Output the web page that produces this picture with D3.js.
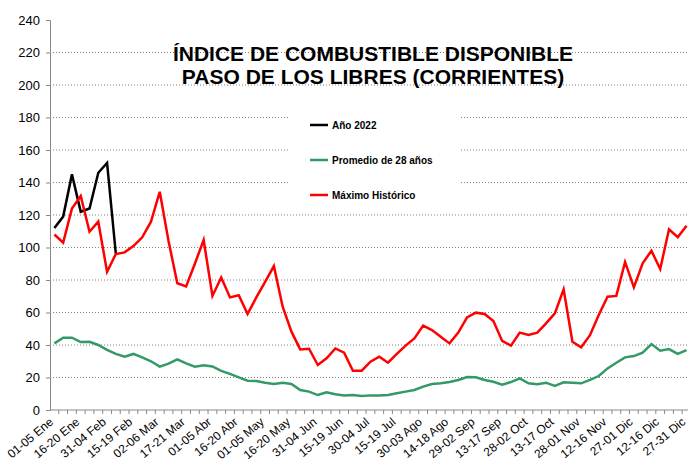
<!DOCTYPE html>
<html>
<head>
<meta charset="utf-8">
<script src="https://cdn.jsdelivr.net/npm/d3@7"></script>
<style>
  body { margin: 0; background: #fff; }
  svg { display: block; font-family: Arial, "Liberation Sans", sans-serif; }
  .titulo { font-weight: bold; font-size: 21px; fill: #000; }
  .leyenda text { font-weight: bold; font-size: 10px; fill: #000; }
</style>
</head>
<body>
<div id="graf"></div>
<script>
// periodos de 5 días (73 en el año)
var periodos = ['01-05 Ene','06-10 Ene','11-15 Ene','16-20 Ene','21-25 Ene','26-30 Ene',
  '31-04 Feb','05-09 Feb','10-14 Feb','15-19 Feb','20-24 Feb','25-01 Mar',
  '02-06 Mar','07-11 Mar','12-16 Mar','17-21 Mar','22-26 Mar','27-31 Mar',
  '01-05 Abr','06-10 Abr','11-15 Abr','16-20 Abr','21-25 Abr','26-30 Abr',
  '01-05 May','06-10 May','11-15 May','16-20 May','21-25 May','26-30 May',
  '31-04 Jun','05-09 Jun','10-14 Jun','15-19 Jun','20-24 Jun','25-29 Jun',
  '30-04 Jul','05-09 Jul','10-14 Jul','15-19 Jul','20-24 Jul','25-29 Jul',
  '30-03 Ago','04-08 Ago','09-13 Ago','14-18 Ago','19-23 Ago','24-28 Ago',
  '29-02 Sep','03-07 Sep','08-12 Sep','13-17 Sep','18-22 Sep','23-27 Sep',
  '28-02 Oct','03-07 Oct','08-12 Oct','13-17 Oct','18-22 Oct','23-27 Oct',
  '28-01 Nov','02-06 Nov','07-11 Nov','12-16 Nov','17-21 Nov','22-26 Nov',
  '27-01 Dic','02-06 Dic','07-11 Dic','12-16 Dic','17-21 Dic','22-26 Dic',
  '27-31 Dic']

// Año 2022
var anio2022 = [112, 119, 145, 122, 124, 146, 152, 96]

// Promedio de 28 años
var promedio = [41, 44.5, 44.5, 41.8, 42, 40, 37, 34.5, 32.8, 34.5,
  32.4, 30, 26.7, 28.5, 31.2, 28.7, 26.7, 27.5, 26.8, 24.1,
  22.2, 20.1, 18, 17.8, 16.8, 16, 16.8, 16, 12.3, 11.3,
  9.2, 10.9, 9.7, 9, 9.2, 8.6, 9, 9, 9.2, 10.3,
  11.3, 12.3, 14.4, 16, 16.4, 17.2, 18.5, 20.3, 20.1, 18.5,
  17.4, 15.6, 17.2, 19.5, 16.4, 15.8, 16.8, 14.8, 17, 16.8,
  16.4, 18.5, 20.9, 25.6, 29.1, 32.4, 33.2, 35.3, 40.6, 36.5,
  37.5, 34.5, 36.9]

// Máximo Histórico
var maximo = [108, 103, 124, 131.7, 109.7, 115.9, 85, 96, 97, 100.9,
  106.3, 115.9, 134.3, 104, 78, 76, 90, 104.6, 70.2, 81.6,
  69.3, 70.6, 59.1, 69.3, 78.8, 88.6, 63.6, 48.2, 37.3, 37.7,
  27.7, 31.8, 37.9, 35.3, 24.2, 24.2, 29.7, 32.8, 29.1, 34.5,
  39.6, 44.1, 51.9, 49.2, 45.1, 41, 47.6, 57, 59.9, 59.1,
  54.8, 42.5, 39.6, 47.6, 46.2, 47.6, 53.3, 59.5, 74.3, 42,
  38.6, 46, 58.5, 69.7, 70.2, 91.1, 75.5, 90.3, 98, 86.8,
  111.2, 106.3, 113.4]

var yTicks = [0, 20, 40, 60, 80, 100, 120, 140, 160, 180, 200, 220, 240]

var series = [
  { nombre: 'Año 2022', valores: anio2022, color: '#000000' },
  { nombre: 'Promedio de 28 años', valores: promedio, color: '#339966' },
  { nombre: 'Máximo Histórico', valores: maximo, color: '#ff0000' }
]

var ancho_total = 688, alto_total = 464
var margins = { top: 20, left: 50, right: 0, bottom: 54 }
var alto = alto_total - margins.top - margins.bottom

var svg = d3.select('#graf').append('svg')
  .attr('width', ancho_total)
  .attr('height', alto_total)

var g = svg.append('g')
  .attr('transform', `translate(${margins.left}, ${margins.top})`)

var paso = 8.78
var x = d3.scalePoint()
  .domain(periodos)
  .range([paso / 2, paso * (periodos.length - 0.5)])

var y = d3.scaleLinear()
  .domain([0, 240])
  .range([alto, 0])

// grilla punteada
g.append('g')
  .selectAll('line')
  .data(yTicks.filter(d => d > 0 && d < 240))
  .enter().append('line')
    .attr('x1', 0)
    .attr('x2', ancho_total - margins.left)
    .attr('y1', d => y(d))
    .attr('y2', d => y(d))
    .attr('stroke', '#808080')
    .attr('stroke-width', 1)
    .attr('stroke-dasharray', '1,2')

// eje y
var yAxisCall = d3.axisLeft(y).tickValues(yTicks).tickSize(4).tickPadding(6)
var yAxisGroup = g.append('g').call(yAxisCall)
yAxisGroup.select('.domain').attr('stroke', '#888')
yAxisGroup.selectAll('.tick line').attr('stroke', '#888')
yAxisGroup.selectAll('text')
  .style('font-size', '13px')
  .style('font-family', 'Arial, "Liberation Sans", sans-serif')
  .attr('fill', '#000')

// eje x
var xAxisGroup = g.append('g').attr('transform', `translate(0, ${alto})`)
xAxisGroup.append('line')
  .attr('x1', 0).attr('x2', ancho_total - margins.left)
  .attr('y1', 0).attr('y2', 0)
  .attr('stroke', '#888')
xAxisGroup.selectAll('.tk')
  .data(periodos)
  .enter().append('line')
    .attr('x1', d => x(d) + paso / 2)
    .attr('x2', d => x(d) + paso / 2)
    .attr('y1', 0).attr('y2', 4)
    .attr('stroke', '#888')
xAxisGroup.selectAll('.etq')
  .data(periodos.filter((d, i) => i % 3 == 0))
  .enter().append('text')
    .attr('text-anchor', 'end')
    .attr('transform', d => `translate(${x(d) - 3}, 10) rotate(-40)`)
    .attr('dy', '0.35em')
    .style('font-size', '12px')
    .text(d => d)

// líneas
var linea = d3.line()
  .x((d, i) => x(periodos[i]))
  .y(d => y(d))

g.selectAll('.serie')
  .data(series)
  .enter().append('path')
    .attr('fill', 'none')
    .attr('stroke', d => d.color)
    .attr('stroke-width', 2.5)
    .attr('stroke-linejoin', 'miter')
    .attr('d', d => linea(d.valores))

// título
svg.append('text')
  .attr('class', 'titulo')
  .attr('x', 373).attr('y', 61)
  .attr('text-anchor', 'middle')
  .text('ÍNDICE DE COMBUSTIBLE DISPONIBLE')
svg.append('text')
  .attr('class', 'titulo')
  .attr('x', 373).attr('y', 84)
  .attr('text-anchor', 'middle')
  .text('PASO DE LOS LIBRES (CORRIENTES)')

// leyenda
var leyenda = svg.append('g').attr('class', 'leyenda')
leyenda.append('rect')
  .attr('x', 290).attr('y', 100)
  .attr('width', 170).attr('height', 110)
  .attr('fill', '#fff')
var items = leyenda.selectAll('.item')
  .data(series)
  .enter().append('g')
    .attr('transform', (d, i) => `translate(310, ${125 + i * 35})`)
items.append('line')
  .attr('x1', 0).attr('x2', 18)
  .attr('stroke', d => d.color)
  .attr('stroke-width', 2.5)
items.append('text')
  .attr('x', 22).attr('dy', '0.35em')
  .text(d => d.nombre)
</script>
</body>
</html>
